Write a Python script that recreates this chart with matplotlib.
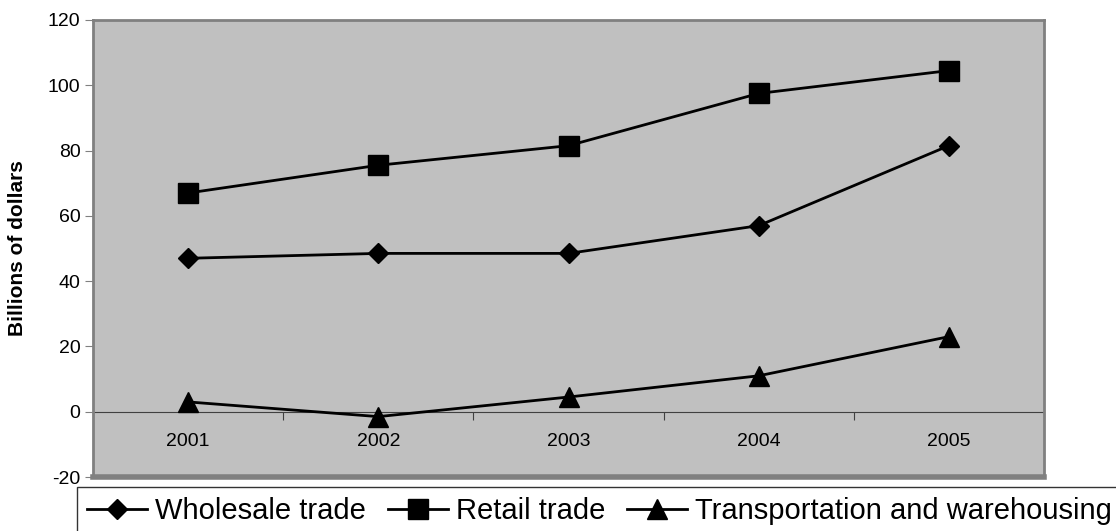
import matplotlib
matplotlib.use("Agg")
import matplotlib.pyplot as plt
import numpy as np

plt.rcParams['font.family'] = ['Liberation Sans', 'DejaVu Sans']
plt.rcParams['axes.unicode_minus'] = False

# dados
anos = ['2001', '2002', '2003', '2004', '2005']
wholesale = [47, 48.5, 48.5, 57, 81.5]
retail = [67, 75.5, 81.5, 97.5, 104.5]
transport = [3, -1.5, 4.5, 11, 23]

fig = plt.figure(figsize=(11.16, 5.31), dpi=100)
ax = fig.add_axes([93/1116, 1 - 477/531, 951/1116, 457/531])
ax.set_facecolor('#C0C0C0')

x = np.arange(len(anos))
ax.plot(x, wholesale, color='black', lw=2, marker='D', ms=10, label='Wholesale trade')
ax.plot(x, retail, color='black', lw=2, marker='s', ms=14, label='Retail trade')
ax.plot(x, transport, color='black', lw=2, marker='^', ms=15, label='Transportation and warehousing')

ax.set_xlim(-0.5, len(anos) - 0.5)
ax.set_ylim(-20, 120)
ax.set_yticks(range(-20, 121, 20))
ax.tick_params(axis='y', labelsize=14, length=6, color='#808080', direction='out', pad=3)
ax.set_ylabel('Billions of dollars', fontsize=15, fontweight='bold')
ax.yaxis.set_label_coords(-0.0694, 0.5)

for s in ['top', 'right', 'left']:
    ax.spines[s].set_color('#808080')
    ax.spines[s].set_linewidth(2)
ax.spines['bottom'].set_position(('data', 0))
ax.spines['bottom'].set_color('#404040')
ax.spines['bottom'].set_zorder(1)

# ticks nas fronteiras das categorias, rótulos no centro
ax.set_xticks(np.arange(-0.5, len(anos), 1.0))
ax.set_xticklabels([])
ax.tick_params(axis='x', length=6, color='#404040', direction='out')
for i, a in enumerate(anos):
    ax.text(i, -9.2, a, ha='center', va='center', fontsize=14)

# borda inferior da área de plotagem
ax.axhline(-20, color='#808080', lw=4, clip_on=False)

leg = fig.legend(loc='upper left', bbox_to_anchor=(77/1116, 1 - 487/531), ncol=3,
                 fontsize=21, frameon=True, fancybox=False, edgecolor='black',
                 handlelength=2.05, columnspacing=0.75, handletextpad=0.28,
                 borderpad=0.35, borderaxespad=0, markerscale=1.0)
leg.get_frame().set_linewidth(1.0)

fig.savefig('out.png', dpi=100)
